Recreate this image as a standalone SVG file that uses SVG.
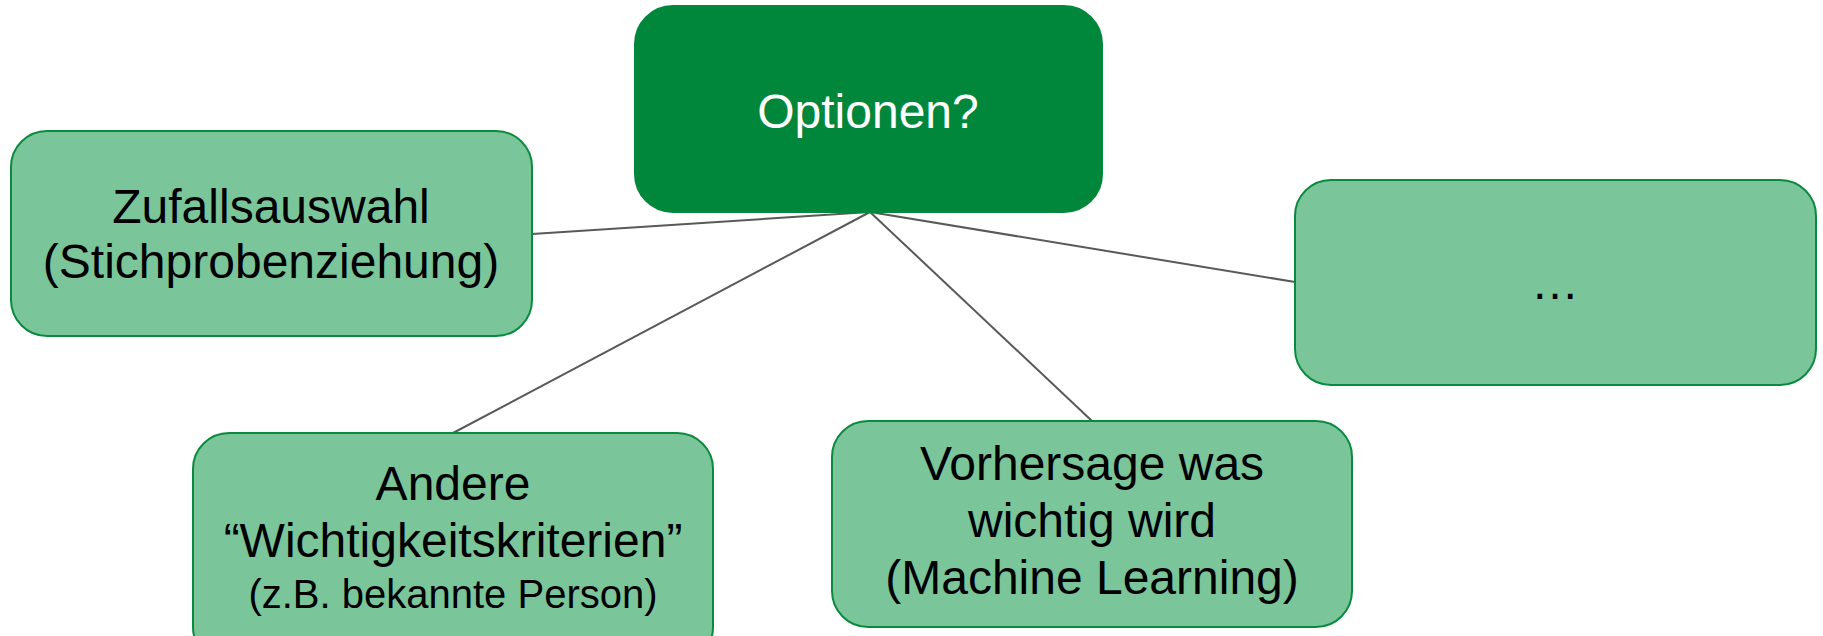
<svg xmlns="http://www.w3.org/2000/svg" width="1823" height="636" viewBox="0 0 1823 636">
<style>
.main{fill:#00873b;stroke:#00873b;stroke-width:2}
.opt{fill:#7bc59a;stroke:#0a8a3d;stroke-width:2}
.t{font-family:"Liberation Sans",Arial,sans-serif;font-size:48px;text-anchor:middle;fill:#000}
.w{fill:#fff}
.s{font-size:40px}
.c{stroke:#595959;stroke-width:2;fill:none}
</style>
<rect width="1823" height="636" fill="#fff"/>
<g id="connectors">
<line class="c" x1="870" y1="212" x2="532" y2="234"/>
<line class="c" x1="870" y1="212" x2="453" y2="433"/>
<line class="c" x1="870" y1="212" x2="1092" y2="421"/>
<line class="c" x1="870" y1="212" x2="1295" y2="282"/>
</g>
<g id="node-optionen">
<rect class="main" x="635" y="6" width="467" height="206" rx="38"/>
<text class="t w" x="868" y="128">Optionen?</text>
</g>
<g id="node-zufall">
<rect class="opt" x="11" y="131" width="521" height="205" rx="36"/>
<text class="t" x="271" y="223">Zufallsauswahl</text>
<text class="t" x="271" y="278">(Stichprobenziehung)</text>
</g>
<g id="node-andere">
<rect class="opt" x="193" y="433" width="520" height="230" rx="36"/>
<text class="t" x="453" y="500">Andere</text>
<text class="t" x="453" y="557">“Wichtigkeitskriterien”</text>
<text class="t s" x="453" y="608">(z.B. bekannte Person)</text>
</g>
<g id="node-vorhersage">
<rect class="opt" x="832" y="421" width="520" height="206" rx="36"/>
<text class="t" x="1092" y="480">Vorhersage was</text>
<text class="t" x="1092" y="537">wichtig wird</text>
<text class="t" x="1092" y="594">(Machine Learning)</text>
</g>
<g id="node-more">
<rect class="opt" x="1295" y="180" width="521" height="205" rx="36"/>
<text class="t" x="1555" y="299">…</text>
</g>
</svg>
